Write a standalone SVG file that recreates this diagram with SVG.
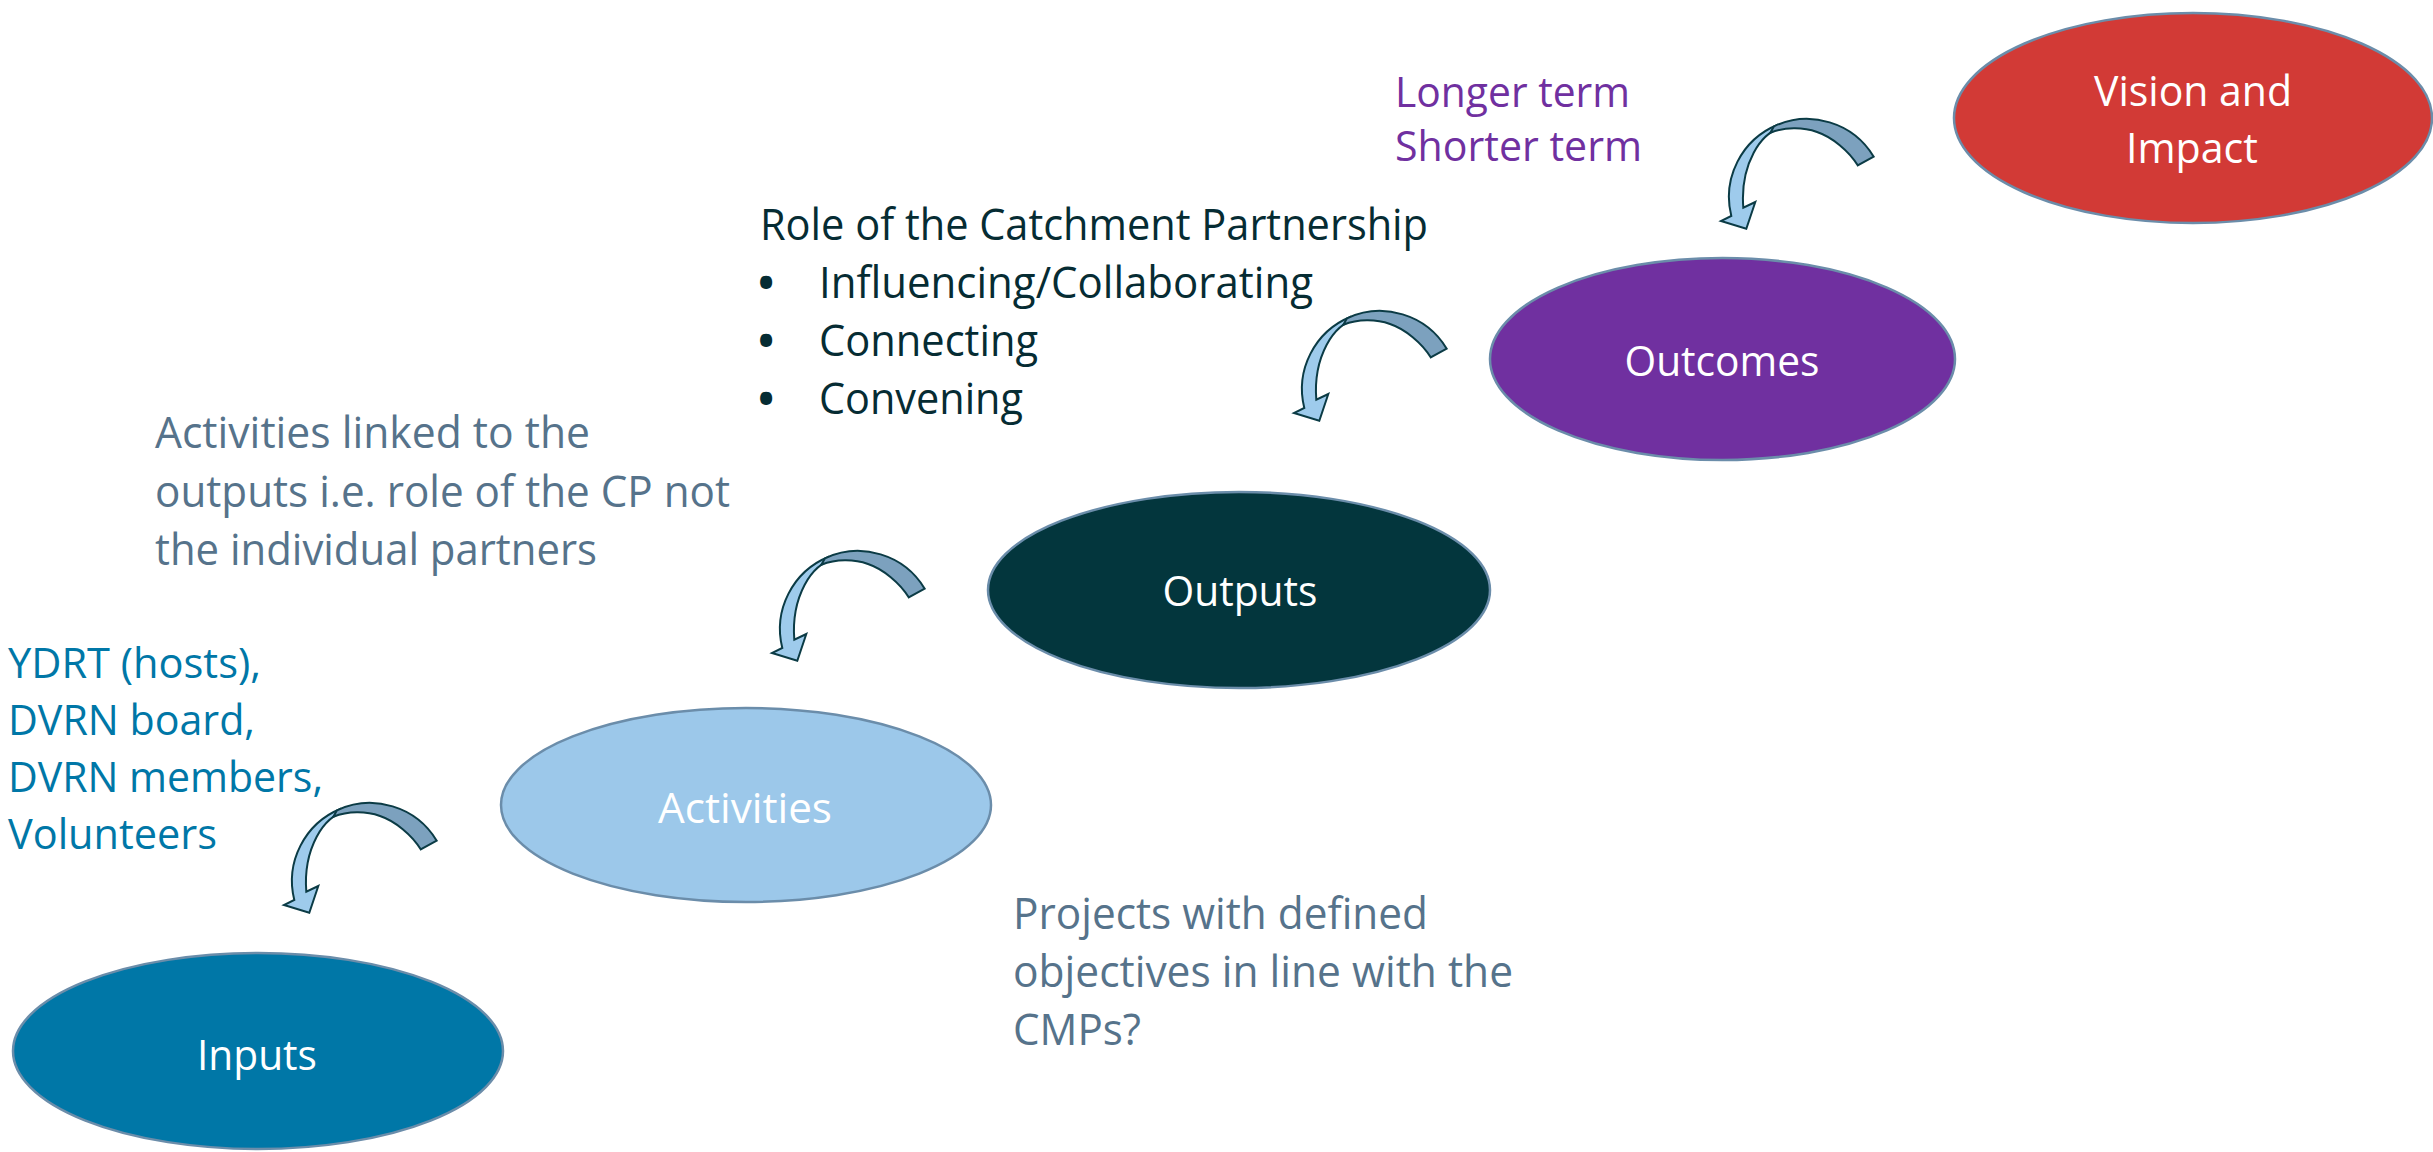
<svg xmlns="http://www.w3.org/2000/svg" xmlns:xlink="http://www.w3.org/1999/xlink" width="2433" height="1152" viewBox="0 0 2433 1152">
<style>
  .node ellipse { stroke: #6B8DAA; stroke-width: 2.5; }
  .lbl { font-family: "Open Sans", "Liberation Sans", sans-serif; font-size: 42px; fill: #FFFFFF; text-anchor: middle; }
  .txt { font-family: "Open Sans", "Liberation Sans", sans-serif; font-size: 42px; }
  .big { font-size: 43px; }
  .bul { font-weight: 700; }
  .teal { fill: #0077A7; }
  .slate { fill: #56738B; }
  .dark { fill: #062C33; }
  .purple { fill: #7030A0; }
  .arrF { fill: #9ECBEC; stroke: #0B3B45; stroke-width: 2; stroke-linejoin: miter; }
  .arrB { fill: #7CA1BE; stroke: #0B3B45; stroke-width: 2; stroke-linejoin: miter; }
</style>
<defs>
  <g id="curvArrow">
    <path class="arrF" d="M 70.8,28.7 A 78 78 0 0 0 24.3,119.9 L 14,125 L 39.3,132.7 L 48.3,106 L 36.3,111.7 C 35,95 37,75 46.7,56.7 C 54,43 64,34 76,31 Z"/>
    <path class="arrB" d="M 166.7,60.7 A 78 78 0 0 0 67,30.3 L 63.3,36.7 C 78,31 96,31 110,36 C 125,41 142,55 150.7,69.3 Z"/>
  </g>
</defs>
<rect x="0" y="0" width="2433" height="1152" fill="#FFFFFF"/>

<g id="connectors">
  <use xlink:href="#curvArrow" href="#curvArrow" transform="translate(270,780)"/>
  <use xlink:href="#curvArrow" href="#curvArrow" transform="translate(758,528)"/>
  <use xlink:href="#curvArrow" href="#curvArrow" transform="translate(1280,288)"/>
  <use xlink:href="#curvArrow" href="#curvArrow" transform="translate(1707,96)"/>
</g>

<g id="node-vision" class="node">
  <ellipse cx="2193" cy="118" rx="239" ry="105" fill="#D23A36"/>
  <text class="lbl" x="2193" y="106" textLength="198" lengthAdjust="spacingAndGlyphs">Vision and</text>
  <text class="lbl" x="2192" y="163" textLength="132" lengthAdjust="spacingAndGlyphs">Impact</text>
</g>
<g id="node-outcomes" class="node">
  <ellipse cx="1722.5" cy="359" rx="232.5" ry="101" fill="#7030A0"/>
  <text class="lbl" x="1722" y="376" textLength="195" lengthAdjust="spacingAndGlyphs">Outcomes</text>
</g>
<g id="node-outputs" class="node">
  <ellipse cx="1239" cy="590" rx="251" ry="98" fill="#03363D"/>
  <text class="lbl" x="1240" y="606" textLength="155" lengthAdjust="spacingAndGlyphs">Outputs</text>
</g>
<g id="node-activities" class="node">
  <ellipse cx="746" cy="805" rx="245" ry="97" fill="#9CC8EA"/>
  <text class="lbl" x="745" y="823" textLength="174" lengthAdjust="spacingAndGlyphs">Activities</text>
</g>
<g id="node-inputs" class="node">
  <ellipse cx="258" cy="1051" rx="245" ry="98" fill="#0077A7"/>
  <text class="lbl" x="257" y="1070" textLength="120" lengthAdjust="spacingAndGlyphs">Inputs</text>
</g>

<g id="note-inputs" class="txt teal">
  <text x="8" y="678" textLength="253" lengthAdjust="spacingAndGlyphs">YDRT (hosts),</text>
  <text x="8" y="735" textLength="247" lengthAdjust="spacingAndGlyphs">DVRN board,</text>
  <text x="8" y="792" textLength="315" lengthAdjust="spacingAndGlyphs">DVRN members,</text>
  <text x="8" y="849" textLength="209" lengthAdjust="spacingAndGlyphs">Volunteers</text>
</g>

<g id="note-activities" class="txt big slate">
  <text x="155" y="448" textLength="435" lengthAdjust="spacingAndGlyphs">Activities linked to the</text>
  <text x="155" y="507" textLength="575" lengthAdjust="spacingAndGlyphs">outputs i.e. role of the CP not</text>
  <text x="155" y="565" textLength="442" lengthAdjust="spacingAndGlyphs">the individual partners</text>
</g>

<g id="note-projects" class="txt big slate">
  <text x="1013" y="929" textLength="415" lengthAdjust="spacingAndGlyphs">Projects with defined</text>
  <text x="1013" y="987" textLength="500" lengthAdjust="spacingAndGlyphs">objectives in line with the</text>
  <text x="1013" y="1045" textLength="128" lengthAdjust="spacingAndGlyphs">CMPs?</text>
</g>

<g id="note-role" class="txt big dark">
  <text x="760" y="240" textLength="668" lengthAdjust="spacingAndGlyphs">Role of the Catchment Partnership</text>
  <text y="298"><tspan class="bul" x="758">•</tspan><tspan x="819" textLength="494" lengthAdjust="spacingAndGlyphs">Influencing/Collaborating</tspan></text>
  <text y="356"><tspan class="bul" x="758">•</tspan><tspan x="819" textLength="219" lengthAdjust="spacingAndGlyphs">Connecting</tspan></text>
  <text y="414"><tspan class="bul" x="758">•</tspan><tspan x="819" textLength="204" lengthAdjust="spacingAndGlyphs">Convening</tspan></text>
</g>

<g id="note-terms" class="txt purple">
  <text x="1395" y="107" textLength="235" lengthAdjust="spacingAndGlyphs">Longer term</text>
  <text x="1395" y="161" textLength="247" lengthAdjust="spacingAndGlyphs">Shorter term</text>
</g>
</svg>
